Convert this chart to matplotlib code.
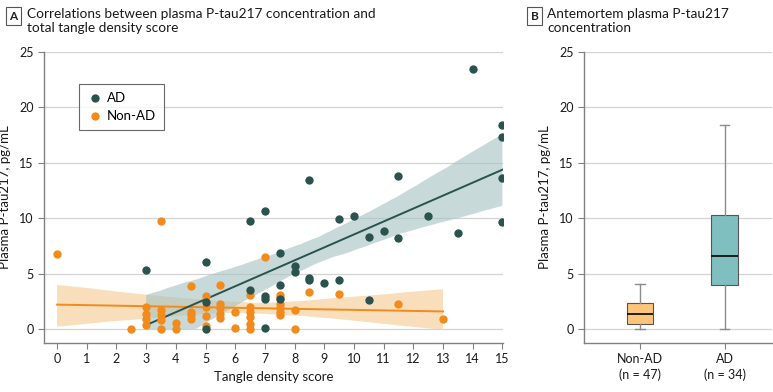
import matplotlib
matplotlib.use("Agg")
import matplotlib.pyplot as plt
import numpy as np
import seaborn as sns

# ---------------- data ----------------
ad_x = [3, 5, 5, 5, 6.5, 6.5, 7, 7, 7, 7, 7.5, 7.5, 7.5, 8, 8, 8.5, 8.5, 8.5,
        9, 9.5, 9.5, 10, 10.5, 10.5, 11, 11.5, 11.5, 12.5, 13.5, 14, 15, 15, 15, 15]
ad_y = [5.3, 6.1, 2.5, 0.0, 9.8, 3.5, 10.7, 3.0, 2.7, 0.1, 6.9, 4.0, 2.7, 5.7, 5.2,
        13.5, 4.6, 4.4, 4.2, 9.9, 4.4, 10.2, 8.3, 2.6, 8.9, 13.8, 8.2, 10.2, 8.7,
        23.5, 18.4, 17.3, 13.6, 9.7]

non_x = [0, 2.5, 3, 3, 3, 3, 3.5, 3.5, 3.5, 3.5, 3.5, 4, 4, 4.5, 4.5, 4.5, 4.5,
         5, 5, 5, 5, 5.5, 5.5, 5.5, 5.5, 5.5, 6, 6, 6.5, 6.5, 6.5, 6.5, 6.5, 6.5,
         7, 7.5, 7.5, 7.5, 7.5, 7.5, 7.5, 8, 8, 8.5, 9.5, 11.5, 13]
non_y = [6.8, 0.0, 2.0, 1.4, 0.9, 0.4, 9.8, 1.7, 1.3, 0.8, 0.0, 0.6, 0.05, 3.9, 1.6,
         1.3, 0.9, 3.0, 2.0, 1.2, 0.3, 4.0, 2.3, 1.9, 1.4, 1.05, 1.6, 0.15, 3.1, 2.0,
         1.6, 1.1, 0.5, 0.05, 6.5, 3.1, 2.8, 2.3, 1.9, 1.6, 1.3, 1.7, 0.0, 3.4, 3.2,
         2.3, 0.9]

box_labels = ["Non-AD\n(n = 47)", "AD\n(n = 34)"]
box_whislo = [0.05, 0.05]
box_q1 = [0.45, 3.95]
box_med = [1.4, 6.6]
box_q3 = [2.35, 10.3]
box_whishi = [4.1, 18.4]

x_ticks = list(range(0, 16))
y_ticks = [0, 5, 10, 15, 20, 25]

# ---------------- style ----------------
AD_C = "#2b524e"
NON_C = "#f28a1c"
AD_BAND = "#a3c2c1"
NON_BAND = "#f7d4a6"
AD_BOX = "#7fbfbf"
NON_BOX = "#fdc57c"
GRID = "#d3d3d3"
SPINE = "#808080"
FONT = ["Lato", "DejaVu Sans"]

plt.rcParams["font.family"] = FONT
plt.rcParams["font.size"] = 9

fig = plt.figure(figsize=(7.73, 3.92), dpi=100)
W, H = 773, 392

def ax_rect(l, r, t, b):
    return [l / W, 1 - b / H, (r - l) / W, (b - t) / H]

axA = fig.add_axes(ax_rect(44, 503, 52, 343))
axB = fig.add_axes(ax_rect(584, 772, 52, 343))

def style_axis(ax):
    for s in ["top", "right"]:
        ax.spines[s].set_visible(False)
    for s in ["left", "bottom"]:
        ax.spines[s].set_color(SPINE)
        ax.spines[s].set_linewidth(1.0)
    ax.set_axisbelow(True)
    ax.yaxis.grid(True, color=GRID, linewidth=0.9)
    ax.tick_params(axis="both", colors=SPINE, labelcolor="#1a1a1a",
                   length=4, width=0.8, labelsize=9)
    ax.set_ylim(-1.24, 25)
    ax.set_yticks(y_ticks)

# ---------------- panel A ----------------
style_axis(axA)
sns.regplot(x=np.array(non_x), y=np.array(non_y), ax=axA, scatter=False, ci=95,
            seed=1, color=NON_C, line_kws=dict(lw=1.4, zorder=3))
sns.regplot(x=np.array(ad_x), y=np.array(ad_y), ax=axA, scatter=False, ci=95,
            seed=1, color=AD_C, line_kws=dict(lw=1.4, zorder=3))
cols = [c for c in axA.collections]
for c, fc, a, z in zip(cols[:2], [NON_BAND, AD_BAND], [0.75, 0.6], [1, 1.1]):
    c.set_facecolor(fc); c.set_alpha(a); c.set_zorder(z); c.set_edgecolor("none")
    # clip ribbon at 0 like the reference
    paths = c.get_paths()
    new = []
    for p in paths:
        v = p.vertices.copy()
        v[:, 1] = np.maximum(v[:, 1], 0)
        new.append(v)
    c.set_verts(new)

axA.scatter(non_x, non_y, s=36, color=NON_C, zorder=4, linewidths=0, label="Non-AD")
axA.scatter(ad_x, ad_y, s=36, color=AD_C, zorder=4, linewidths=0, label="AD")
axA.set_xlim(-0.44, 15.02)
axA.set_xticks(x_ticks)
axA.set_xlabel("Tangle density score", fontsize=9.5, color="#1a1a1a", labelpad=4)
axA.set_ylabel("Plasma P-tau217, pg/mL", fontsize=9.5, color="#1a1a1a", labelpad=6)

h, l = axA.get_legend_handles_labels()
order = [l.index("AD"), l.index("Non-AD")]
leg = axA.legend([h[i] for i in order], [l[i] for i in order],
                 loc="upper left", bbox_to_anchor=(35 / 459, 1 - 32 / 291),
                 frameon=True, fancybox=False, fontsize=9.5, handletextpad=0.3,
                 borderpad=0.6, labelspacing=0.45, handlelength=1.2,
                 borderaxespad=0)
leg.get_frame().set_edgecolor("#444444")
leg.get_frame().set_linewidth(0.8)

# ---------------- panel B ----------------
style_axis(axB)
stats = []
for i in range(2):
    stats.append(dict(label=box_labels[i], whislo=box_whislo[i], q1=box_q1[i],
                      med=box_med[i], q3=box_q3[i], whishi=box_whishi[i], fliers=[]))
bp = axB.bxp(stats, positions=[0, 1], widths=0.31, patch_artist=True,
             showfliers=False,
             boxprops=dict(edgecolor="#555555", linewidth=0.8),
             whiskerprops=dict(color="#8c8c8c", linewidth=1.0),
             capprops=dict(color="#8c8c8c", linewidth=1.0),
             medianprops=dict(color="#111111", linewidth=1.3))
for patch, c in zip(bp["boxes"], [NON_BOX, AD_BOX]):
    patch.set_facecolor(c)
for cap in bp["caps"]:
    xd = cap.get_xdata()
    m = np.mean(xd)
    cap.set_xdata([m - 0.055, m + 0.055])
axB.set_xlim(-0.66, 1.56)
axB.set_xticks([0, 1])
axB.set_xticklabels(box_labels, fontsize=9, linespacing=1.3)
axB.set_ylabel("Plasma P-tau217, pg/mL", fontsize=9.5, color="#1a1a1a", labelpad=6)

# ---------------- titles ----------------
def panel_label(x, y, s):
    fig.text(x / W, 1 - y / H, s, fontsize=8.5, fontweight="bold", ha="center",
             va="center", color="#222222",
             bbox=dict(boxstyle="square,pad=0.3", facecolor="white",
                       edgecolor="#555555", linewidth=0.8))

panel_label(13.5, 16, "A")
fig.text(27 / W, 1 - 8 / H,
         "Correlations between plasma P-tau217 concentration and\ntotal tangle density score",
         fontsize=9.8, va="top", ha="left", color="#1a1a1a", linespacing=1.15)
panel_label(534.5, 16, "B")
fig.text(547 / W, 1 - 8 / H, "Antemortem plasma P-tau217\nconcentration",
         fontsize=9.8, va="top", ha="left", color="#1a1a1a", linespacing=1.15)

fig.savefig("out.png", dpi=100)
